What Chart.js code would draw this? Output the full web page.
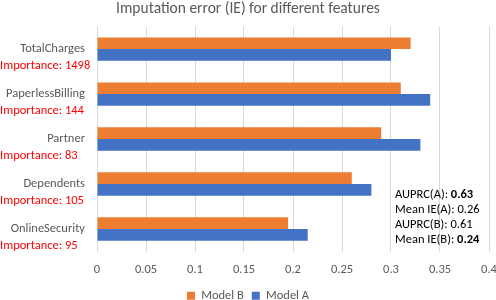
<!DOCTYPE html>
<html><head><meta charset="utf-8">
<script src="https://cdn.jsdelivr.net/npm/chart.js@4/dist/chart.umd.min.js"></script>
<style>html,body{margin:0;padding:0;background:#fff}#wrap{width:496px;height:300px}</style>
</head><body><div id="wrap"><canvas id="c" width="496" height="300"></canvas></div>
<script>
const categories = ['TotalCharges','PaperlessBilling','Partner','Dependents','OnlineSecurity'];
const importance = [1498, 144, 83, 105, 95];
const modelB = [0.32, 0.31, 0.29, 0.26, 0.195];
const modelA = [0.30, 0.34, 0.33, 0.28, 0.215];
const xTickValues = [0, 0.05, 0.1, 0.15, 0.2, 0.25, 0.3, 0.35, 0.4];
const noteLines = [['AUPRC(A): ', '0.63', true], ['Mean IE(A): ', '0.26', false], ['AUPRC(B): ', '0.61', false], ['Mean IE(B): ', '0.24', true]];

const FONT = 'Carlito, Lato, "Liberation Sans", sans-serif';
const GRAY = '#595959';
const FS = 12.5;

const labelPlugin = {
  id: 'labels',
  afterDraw(chart) {
    const ctx = chart.ctx, y = chart.scales.y;
    ctx.save();
    ctx.textBaseline = 'middle';
    categories.forEach((c, i) => {
      const py = y.getPixelForValue(i);
      ctx.font = FS + 'px ' + FONT;
      ctx.fillStyle = GRAY;
      ctx.textAlign = 'right';
      ctx.fillText(c, 85, py);
      ctx.fillStyle = '#FF0000';
      ctx.textAlign = 'left';
      ctx.fillText('Importance: ' + importance[i], 0, py + 17);
    });
    ctx.fillStyle = '#000';
    ctx.textAlign = 'left';
    noteLines.forEach((l, i) => {
      const py = 195 + i * 15;
      ctx.font = FS + 'px ' + FONT;
      ctx.fillText(l[0], 395, py);
      const w = ctx.measureText(l[0]).width;
      ctx.font = (l[2] ? 'bold ' : '') + FS + 'px ' + FONT;
      ctx.fillText(l[1], 395 + w, py);
    });
    ctx.restore();
  }
};

new Chart(document.getElementById('c'), {
  type: 'bar',
  data: {
    labels: categories,
    datasets: [
      { label: 'Model B', data: modelB, backgroundColor: '#ED7D31' },
      { label: 'Model A', data: modelA, backgroundColor: '#4472C4' }
    ]
  },
  options: {
    indexAxis: 'y',
    responsive: false,
    animation: false,
    devicePixelRatio: 1,
    categoryPercentage: 0.52,
    barPercentage: 1,
    layout: { padding: { left: 0, right: 0, top: 0, bottom: -12 } },
    scales: {
      x: {
        min: 0, max: 0.4,
        afterBuildTicks: s => { s.ticks = xTickValues.map(v => ({ value: v })); },
        afterFit: s => { s.height -= 7; s.paddingRight = 7; },
        ticks: { color: GRAY, font: { family: FONT, size: FS }, padding: 11,
                 callback: v => String(Number(v.toFixed(2))) },
        grid: { color: '#D9D9D9', drawTicks: false },
        border: { display: false }
      },
      y: {
        ticks: { display: false },
        grid: { display: false },
        border: { display: false },
        afterFit: s => { s.width = 97; }
      }
    },
    plugins: {
      title: { display: true, text: 'Imputation error (IE) for different features',
               color: GRAY, font: { family: FONT, size: 15.5, weight: 'normal' }, padding: { top: 0, bottom: 8 } },
      legend: { position: 'bottom',
                labels: { color: GRAY, font: { family: FONT, size: FS }, boxWidth: 8, boxHeight: 8, padding: 8 } },
      tooltip: { enabled: false }
    }
  },
  plugins: [labelPlugin]
});
</script></body></html>
